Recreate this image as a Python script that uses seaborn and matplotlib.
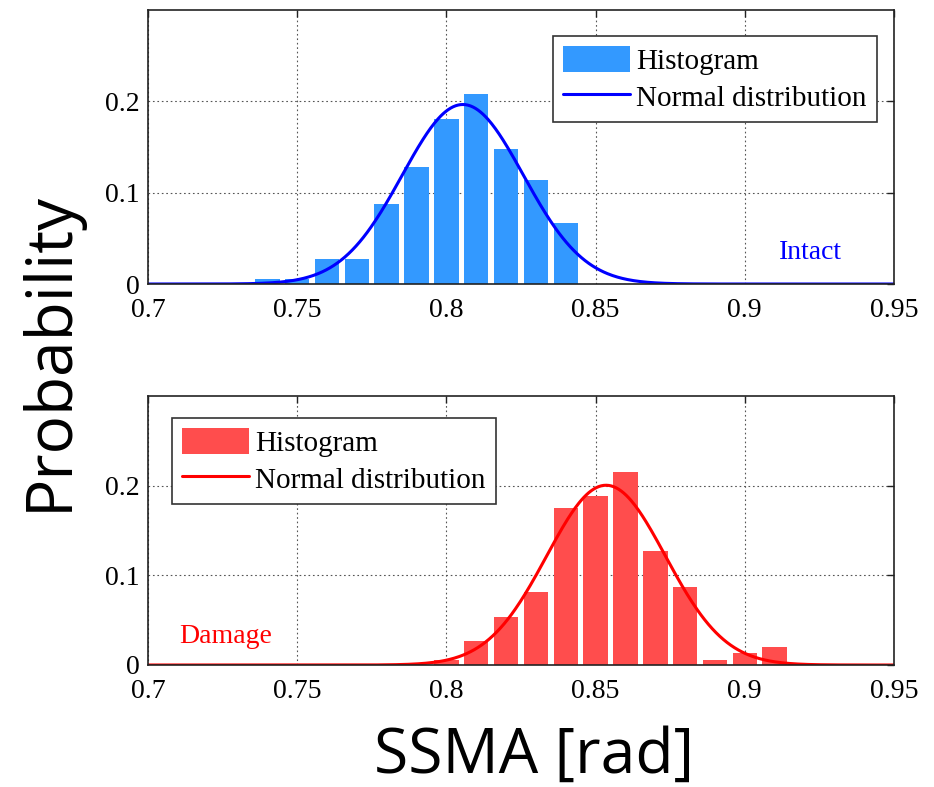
import numpy as np
import pandas as pd
import matplotlib
matplotlib.use("Agg")
import matplotlib.pyplot as plt
import seaborn as sns
from matplotlib.patches import Patch
from matplotlib.lines import Line2D

# Bin centres and relative frequencies (bin width 0.01 rad)
intact_centers = [0.74, 0.75, 0.76, 0.77, 0.78, 0.79, 0.80, 0.81, 0.82, 0.83, 0.84]
intact_prob = [0.006, 0.005, 0.027, 0.027, 0.088, 0.128, 0.181, 0.208, 0.148, 0.114, 0.067]

damage_centers = [0.80, 0.81, 0.82, 0.83, 0.84, 0.85, 0.86, 0.87, 0.88, 0.89, 0.90, 0.91]
damage_prob = [0.006, 0.027, 0.054, 0.081, 0.175, 0.188, 0.215, 0.127, 0.087, 0.006, 0.013, 0.020]

# Fitted normal distributions (mean, standard deviation)
intact_mu, intact_sigma = 0.8055, 0.0203
damage_mu, damage_sigma = 0.8535, 0.0199

bin_width = 0.01
x_ticks = [0.7, 0.75, 0.8, 0.85, 0.9, 0.95]
x_tick_labels = ["0.7", "0.75", "0.8", "0.85", "0.9", "0.95"]
y_ticks = [0, 0.1, 0.2]
y_tick_labels = ["0", "0.1", "0.2"]

sns.set_theme(style="white")
plt.rcParams["font.family"] = ["Liberation Serif", "DejaVu Serif"]
plt.rcParams["text.color"] = "black"
plt.rcParams["axes.labelcolor"] = "black"

W, H = 934, 787
fig = plt.figure(figsize=(W / 100, H / 100), dpi=100)


def axes_px(left, top, right, bottom):
    return fig.add_axes([left / W, 1 - bottom / H, (right - left) / W, (bottom - top) / H])


ax_top = axes_px(148, 10, 894, 284)
ax_bot = axes_px(148, 396, 894, 665)


def normal_curve(mu, sigma):
    xs = np.linspace(0.7, 0.95, 600)
    ys = bin_width * np.exp(-0.5 * ((xs - mu) / sigma) ** 2) / (sigma * np.sqrt(2 * np.pi))
    return pd.DataFrame({"x": xs, "y": ys})


def panel(ax, centers, probs, mu, sigma, bar_color, line_color, tag, tag_xy,
          legend_loc, legend_anchor):
    df = pd.DataFrame({"ssma": centers, "p": probs})
    lo = min(centers) - bin_width / 2
    hi = max(centers) + bin_width / 2
    sns.histplot(data=df, x="ssma", weights="p", binwidth=bin_width,
                 binrange=(lo, hi), shrink=0.82, stat="count",
                 color=bar_color, alpha=1.0, edgecolor="none", linewidth=0, ax=ax)
    curve = normal_curve(mu, sigma)
    sns.lineplot(data=curve, x="x", y="y", color=line_color, linewidth=2.2, ax=ax)

    ax.set_xlim(0.7, 0.95)
    ax.set_ylim(0, 0.3)
    ax.set_xticks(x_ticks)
    ax.set_xticklabels(x_tick_labels)
    ax.set_yticks(y_ticks)
    ax.set_yticklabels(y_tick_labels)
    ax.set_xlabel("")
    ax.set_ylabel("")
    ax.grid(True, linestyle=(0, (1.5, 2.5)), color="#555555", linewidth=0.8)
    ax.set_axisbelow(True)
    for s in ax.spines.values():
        s.set_visible(True)
        s.set_color("#222222")
        s.set_linewidth(1.2)
    ax.tick_params(direction="in", length=5, width=1, top=True, right=True,
                   labelsize=20, colors="#222222", labelcolor="black")
    ax.tick_params(axis="x", pad=10)
    ax.tick_params(axis="y", pad=6)

    ax.text(tag_xy[0], tag_xy[1], tag, color=line_color, fontsize=20,
            ha="center", va="baseline")

    handles = [Patch(facecolor=bar_color, edgecolor="none"),
               Line2D([], [], color=line_color, linewidth=2.2)]
    leg = ax.legend(handles, ["Histogram", "Normal distribution"],
                    loc=legend_loc, bbox_to_anchor=legend_anchor,
                    fontsize=21, frameon=True, fancybox=False, framealpha=1,
                    edgecolor="#333333", handlelength=2.3, handleheight=1.0,
                    handletextpad=0.2, borderpad=0.35, borderaxespad=0,
                    labelspacing=0.25)
    leg.get_frame().set_linewidth(1.2)
    for t in leg.get_texts():
        t.set_color("black")


panel(ax_top, intact_centers, intact_prob, intact_mu, intact_sigma,
      "#3399FF", "#0000FF", "Intact", (0.922, 0.027),
      "upper right", (0.977, 0.905))
panel(ax_bot, damage_centers, damage_prob, damage_mu, damage_sigma,
      "#FF4D4D", "#FF0000", "Damage", (0.726, 0.024),
      "upper left", (0.032, 0.918))

fig.text(534 / W, 1 - 757 / H, "SSMA [rad]", fontsize=45, family="Open Sans",
         color="black", ha="center", va="center")
fig.text(50 / W, 1 - 351 / H, "Probability", fontsize=46, family="Open Sans",
         color="black", ha="center", va="center", rotation=90)

fig.savefig("out.png", dpi=100)
